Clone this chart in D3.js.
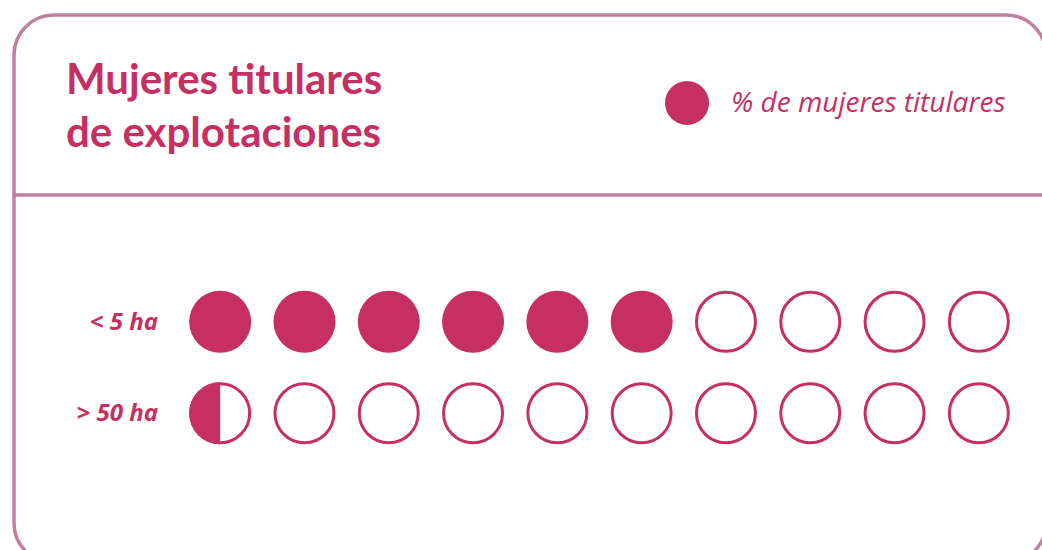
<!DOCTYPE html>
<html>
<head>
<meta charset="utf-8">
<script src="https://cdn.jsdelivr.net/npm/d3@7"></script>
<style>
  body { margin: 0; background: #ffffff; }
</style>
</head>
<body>
<div id="chart"></div>
<script>
var w = 1042
var h = 550

var categories = [ "< 5 ha", "> 50 ha" ];
var values = [ 60, 5 ];          // % de mujeres titulares
var units = d3.range(10);         // each circle = 10 %
var unitSize = 10;

var pink = "#c52f62";
var frame = "#c17f9f";

var svg = d3.select("#chart").append("svg")
    .attr("width", w)
    .attr("height", h);

// card frame
svg.append("rect")
    .attr("x", 14)
    .attr("y", 15)
    .attr("width", 1032)
    .attr("height", 548)
    .attr("rx", 40)
    .attr("fill", "#ffffff")
    .attr("stroke", frame)
    .attr("stroke-width", 3.5);

svg.append("line")
    .attr("x1", 14).attr("x2", w)
    .attr("y1", 195).attr("y2", 195)
    .attr("stroke", frame)
    .attr("stroke-width", 3.5);

// title
var title = svg.append("text")
    .attr("x", 66)
    .style("font-family", "Lato, sans-serif")
    .style("font-weight", "bold")
    .style("font-size", "42px")
    .style("fill", pink);
title.append("tspan").attr("x", 66).attr("y", 94).text("Mujeres titulares");
title.append("tspan").attr("x", 66).attr("y", 147).text("de explotaciones");

// legend
svg.append("circle")
    .attr("cx", 687).attr("cy", 103).attr("r", 22)
    .attr("fill", pink);
svg.append("text")
    .attr("x", 731).attr("y", 112)
    .style("font-family", "'Open Sans', sans-serif")
    .style("font-style", "italic")
    .style("font-size", "28px")
    .style("fill", pink)
    .text("% de mujeres titulares");

// scales
var x = d3.scaleBand().domain(units).range([178, 1021]).paddingInner(0);
var y = d3.scaleBand().domain(categories).range([276, 459]);

var r = 31;

var defs = svg.append("defs");

var rows = svg.selectAll("g.row").data(categories).enter()
  .append("g")
    .attr("class", "row")
    .attr("transform", function(d) { return "translate(0," + (y(d) + y.bandwidth() / 2) + ")"; });

rows.append("text")
    .attr("x", 158)
    .attr("dy", "0.33em")
    .attr("text-anchor", "end")
    .style("font-family", "'Open Sans', sans-serif")
    .style("font-style", "italic")
    .style("font-weight", "bold")
    .style("font-size", "24px")
    .style("fill", pink)
    .text(function(d) { return d; });

var cells = rows.selectAll("g.cell")
    .data(function(d, ri) {
      return units.map(function(u) {
        var f = Math.max(0, Math.min(1, values[ri] / unitSize - u));
        return { row: ri, unit: u, frac: f };
      });
    })
  .enter().append("g")
    .attr("class", "cell")
    .attr("transform", function(d) { return "translate(" + (x(d.unit) + x.bandwidth() / 2) + ",0)"; });

// partial fill via clip
cells.each(function(d) {
  var g = d3.select(this);
  if (d.frac >= 1) {
    g.append("circle").attr("r", r).attr("fill", pink);
    return;
  }
  g.append("circle")
      .attr("r", r - 1.5)
      .attr("fill", "#ffffff")
      .attr("stroke", pink)
      .attr("stroke-width", 3);
  if (d.frac > 0) {
    var id = "clip-" + d.row + "-" + d.unit;
    defs.append("clipPath").attr("id", id)
      .append("rect")
        .attr("x", -r - 1).attr("y", -r - 1)
        .attr("width", 2 * r * d.frac + 1)
        .attr("height", 2 * r + 2);
    g.append("circle")
        .attr("r", r)
        .attr("fill", pink)
        .attr("clip-path", "url(#" + id + ")");
  }
});
</script>
</body>
</html>
